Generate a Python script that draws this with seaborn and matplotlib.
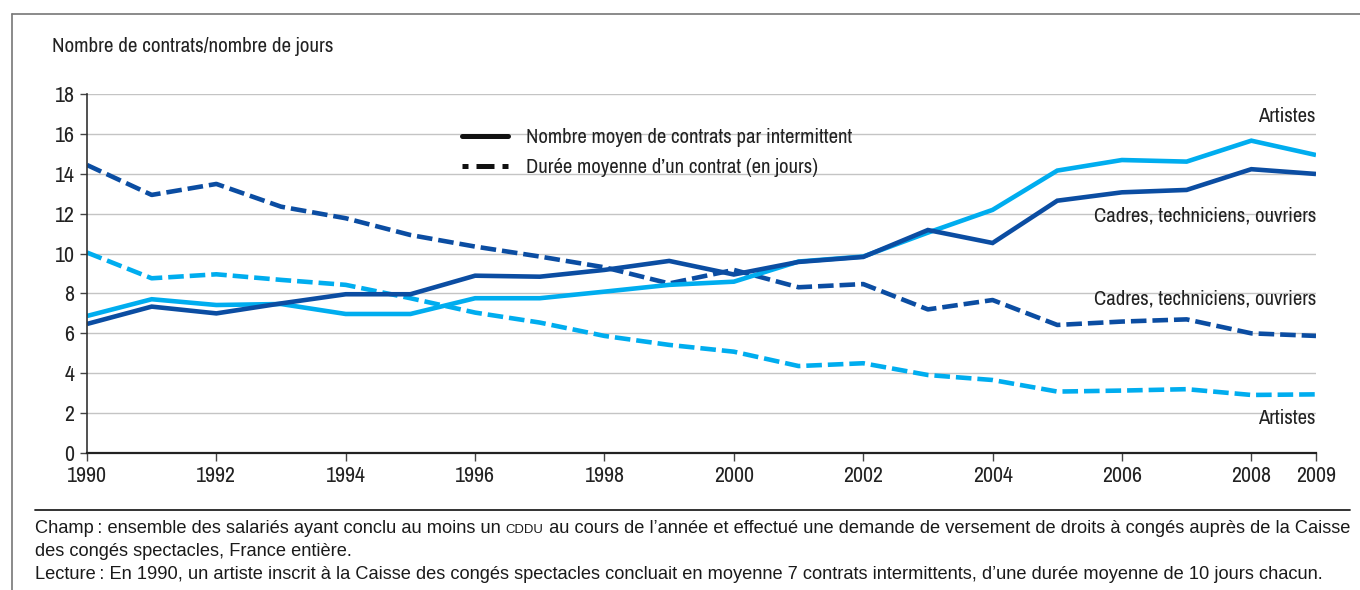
import matplotlib
matplotlib.use("Agg")
import matplotlib.pyplot as plt
import seaborn as sns
import pandas as pd
from matplotlib.lines import Line2D

years = list(range(1990, 2010))

contrats_cadres = [6.47, 7.34, 7.0, 7.5, 7.96, 7.96, 8.89, 8.84, 9.18, 9.63,
                   8.95, 9.58, 9.83, 11.18, 10.53, 12.65, 13.07, 13.19, 14.23, 13.99]
contrats_artistes = [6.87, 7.71, 7.42, 7.47, 6.97, 6.97, 7.76, 7.76, 8.09, 8.43,
                     8.59, 9.6, 9.85, 11.05, 12.19, 14.16, 14.69, 14.61, 15.66, 14.94]
duree_cadres = [14.44, 12.94, 13.49, 12.35, 11.77, 10.93, 10.35, 9.85, 9.31, 8.5,
                9.18, 8.31, 8.47, 7.2, 7.67, 6.42, 6.59, 6.7, 6.0, 5.87]
duree_artistes = [10.05, 8.76, 8.96, 8.68, 8.43, 7.76, 7.04, 6.54, 5.87, 5.42,
                  5.08, 4.36, 4.5, 3.91, 3.66, 3.08, 3.13, 3.2, 2.91, 2.94]

xticks = [1990, 1992, 1994, 1996, 1998, 2000, 2002, 2004, 2006, 2008, 2009]
yticks = [0, 2, 4, 6, 8, 10, 12, 14, 16, 18]

legend_labels = ["Nombre moyen de contrats par intermittent",
                 "Durée moyenne d’un contrat (en jours)"]
ylabel_text = "Nombre de contrats/nombre de jours"
lab_artistes = "Artistes"
lab_cadres = "Cadres, techniciens, ouvriers"
footer1a = "Champ\u2009: ensemble des salariés ayant conclu au moins un "
footer1b = "CDDU"
footer1c = " au cours de l’année et effectué une demande de versement de droits à congés auprès de la Caisse"
footer2 = "des congés spectacles, France entière."
footer3 = "Lecture\u2009: En 1990, un artiste inscrit à la Caisse des congés spectacles concluait en moyenne 7 contrats intermittents, d’une durée moyenne de 10 jours chacun."

DARK = "#0b4da2"
LIGHT = "#00adef"
TXT = "#222222"
NARROW = ["Archivo Narrow", "DejaVu Sans"]
REG = ["Liberation Sans", "DejaVu Sans"]

sns.set_theme(style="white")
plt.rcParams["font.family"] = NARROW

fig = plt.figure(figsize=(13.6, 5.9), dpi=100)
renderer = fig.canvas.get_renderer()


def text_width(s, family, size):
    t = fig.text(0, 0, s, fontsize=size, family=family)
    w = t.get_window_extent(renderer).width
    t.remove()
    return w


def fit_size(s, family, target_px, base=20.0):
    return base * target_px / text_width(s, family, base)


fs_tick = fit_size("1990", NARROW, 37) * 1.08
fs_title = fit_size(ylabel_text, NARROW, 281)
fs_leg = fit_size(legend_labels[0], NARROW, 325)
fs_lab = fit_size(lab_cadres, NARROW, 221)
w1 = (text_width(footer1a, REG, 20) + text_width(footer1b, REG, 20 * 0.72)
      + text_width(footer1c, REG, 20))
fs_foot = min(fit_size(footer3, REG, 1314), 20 * 1312 / w1)

ax = fig.add_axes([87/1360, 1-453/590, (1316-87)/1360, (453-94)/590])

df = pd.DataFrame({"year": years, "cc": contrats_cadres, "ca": contrats_artistes,
                   "dc": duree_cadres, "da": duree_artistes})
lw = 3.3
dash = (3.4, 1.3)
sns.lineplot(data=df, x="year", y="dc", ax=ax, color=DARK, lw=lw, linestyle=(0, dash))
sns.lineplot(data=df, x="year", y="da", ax=ax, color=LIGHT, lw=lw, linestyle=(0, dash))
sns.lineplot(data=df, x="year", y="ca", ax=ax, color=LIGHT, lw=lw)
sns.lineplot(data=df, x="year", y="cc", ax=ax, color=DARK, lw=lw)
for l in ax.get_lines():
    l.set_solid_capstyle("butt")
    l.set_dash_capstyle("butt")
    l.set_solid_joinstyle("miter")

ax.set_xlim(1990, 2009)
ax.set_ylim(0, 18)
ax.set_xticks(xticks)
ax.set_xticklabels([str(t) for t in xticks])
ax.set_yticks(yticks)
ax.set_yticklabels([str(t) for t in yticks])
ax.set_xlabel("")
ax.set_ylabel("")
ax.yaxis.grid(True, color="#c4c4c4", lw=1.0)
ax.set_axisbelow(True)
for s in ["top", "right"]:
    ax.spines[s].set_visible(False)
ax.spines["left"].set_color("#333333")
ax.spines["bottom"].set_color("#222222")
ax.spines["left"].set_linewidth(1.2)
ax.spines["bottom"].set_linewidth(1.6)
ax.tick_params(axis="y", left=True, length=5, width=1, color="#444444",
               labelsize=fs_tick, labelcolor=TXT, pad=4)
ax.tick_params(axis="x", bottom=True, length=6, width=1, color="#444444",
               labelsize=fs_tick, labelcolor=TXT, pad=3)

hlw = 3.6
hpx = hlw * 100 / 72
handles = [Line2D([], [], color="#111111", lw=hlw),
           Line2D([], [], color="#111111", lw=hlw,
                  linestyle=(12 / hpx, (18 / hpx, 8 / hpx)))]
em = fs_leg * 100 / 72
leg = ax.legend(handles, legend_labels, loc="upper left",
                bbox_to_anchor=(462/1360, 1-128/590), bbox_transform=fig.transFigure,
                frameon=False, fontsize=fs_leg, handlelength=46 / em,
                handletextpad=18 / em, labelspacing=0.55, borderaxespad=0, borderpad=0)
for t in leg.get_texts():
    t.set_color(TXT)

lab_kw = dict(transform=fig.transFigure, ha="right", va="center", fontsize=fs_lab, color=TXT)
fig.text(1316/1360, 1-117/590, lab_artistes, **lab_kw)
fig.text(1316/1360, 1-216/590, lab_cadres, **lab_kw)
fig.text(1316/1360, 1-299/590, lab_cadres, **lab_kw)
fig.text(1316/1360, 1-419/590, lab_artistes, **lab_kw)

fig.text(52/1360, 1-46/590, ylabel_text, ha="left", va="center", fontsize=fs_title, color=TXT)

# frame
fig.add_artist(Line2D([12/1360, 1.0], [1-14/590, 1-14/590], transform=fig.transFigure,
                      color="#777777", lw=1.2))
fig.add_artist(Line2D([12/1360, 12/1360], [0, 1-14/590], transform=fig.transFigure,
                      color="#777777", lw=1.2))
fig.add_artist(Line2D([35/1360, 1350/1360], [1-510/590, 1-510/590], transform=fig.transFigure,
                      color="#222222", lw=1.3))

fkw = dict(fontsize=fs_foot, color="#1a1a1a", family=REG)
t1 = fig.text(35/1360, 1-533/590, footer1a, ha="left", va="baseline", **fkw)
t2 = ax.annotate(footer1b, xy=(1, 1-533/590), xycoords=(t1, "figure fraction"),
                 ha="left", va="baseline", fontsize=fs_foot * 0.72, color="#1a1a1a",
                 family=REG, annotation_clip=False)
t3 = ax.annotate(footer1c, xy=(1, 1-533/590), xycoords=(t2, "figure fraction"),
                 ha="left", va="baseline", annotation_clip=False, **fkw)
fig.text(35/1360, 1-556/590, footer2, ha="left", va="baseline", **fkw)
fig.text(35/1360, 1-579/590, footer3, ha="left", va="baseline", **fkw)

fig.savefig("out.png", dpi=100)
